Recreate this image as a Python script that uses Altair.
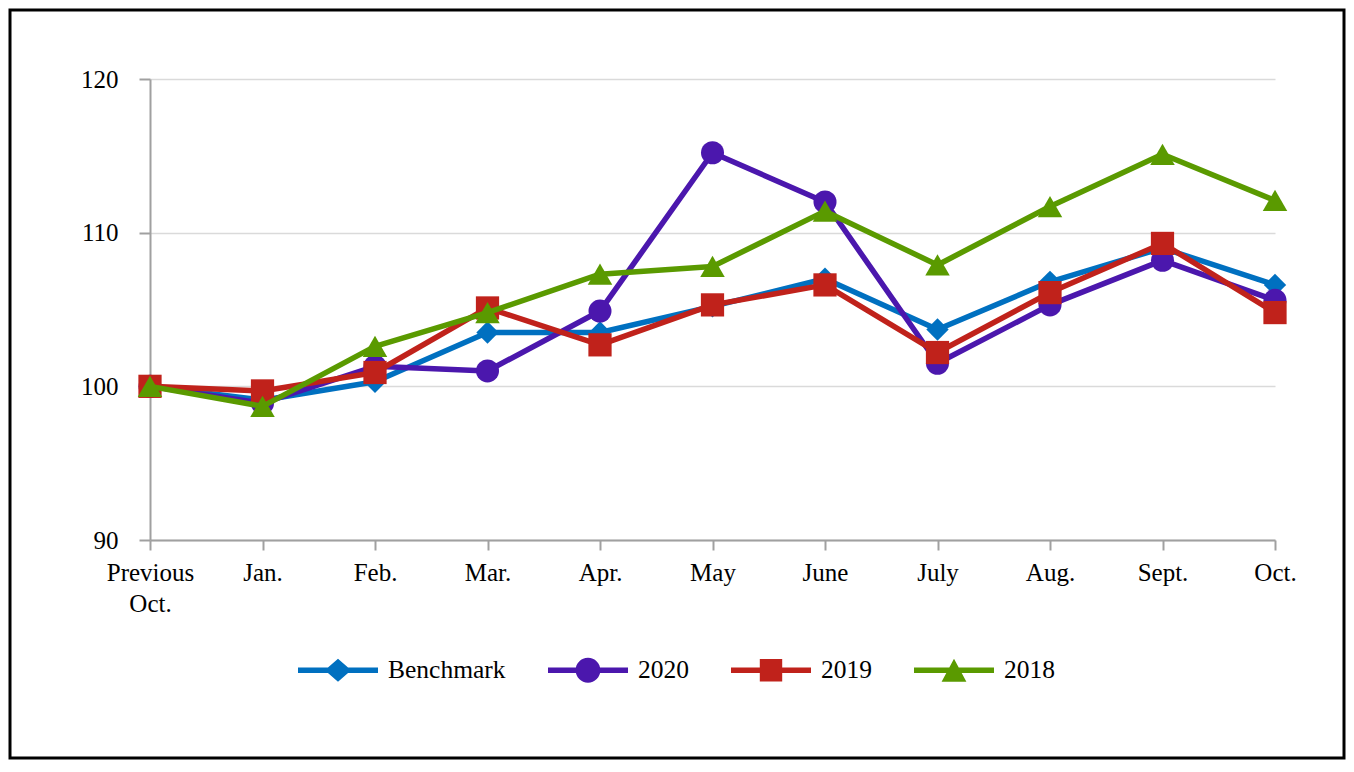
import altair as alt
import pandas as pd

months = ["Previous Oct.", "Jan.", "Feb.", "Mar.", "Apr.", "May", "June",
          "July", "Aug.", "Sept.", "Oct."]
series_names = ["Benchmark", "2020", "2019", "2018"]
benchmark = [100.0, 99.1, 100.3, 103.5, 103.5, 105.2, 107.0, 103.7, 106.8, 109.0, 106.6]
y2020 = [100.0, 98.9, 101.3, 101.0, 104.9, 115.2, 112.0, 101.5, 105.3, 108.2, 105.6]
y2019 = [100.0, 99.7, 100.9, 105.1, 102.7, 105.3, 106.6, 102.2, 106.1, 109.3, 104.8]
y2018 = [100.0, 98.7, 102.6, 104.8, 107.3, 107.8, 111.4, 107.9, 111.7, 115.1, 112.1]
y_ticks = [90, 100, 110, 120]

values = {"Benchmark": benchmark, "2020": y2020, "2019": y2019, "2018": y2018}
rows = []
for s in series_names:
    for m, v in zip(months, values[s]):
        rows.append({"month": m, "series": s, "value": v})
df = pd.DataFrame(rows)

colors = ["#0070C0", "#4B17AD", "#C0221B", "#5A9A00"]
marker_shapes = ["diamond", "circle", "square", "triangle-up"]
marker_sizes = [500, 530, 540, 600]

line_bar = "M-1,-0.07L1,-0.07L1,0.07L-1,0.07Z"
legend_paths = [
    line_bar + "M0,-0.29L0.33,0L0,0.29L-0.33,0Z",
    line_bar + "M0.31,0A0.31,0.31 0 1,1 -0.31,0A0.31,0.31 0 1,1 0.31,0Z",
    line_bar + "M-0.28,-0.28L0.28,-0.28L0.28,0.28L-0.28,0.28Z",
    line_bar + "M0,-0.29L0.31,0.29L-0.31,0.29Z",
]

FONT = "Liberation Serif"
W, H = 1125, 461
PAD_L, PAD_T, PAD_R, PAD_B = 142, 71, 71, 220

x_enc = alt.X(
    "month:N", sort=months,
    scale=alt.Scale(type="point", padding=0, domain=months),
    axis=alt.Axis(
        title=None, labelAngle=0, labelFont=FONT, labelFontSize=25,
        labelColor="black", labelPadding=10, labelOverlap=False,
        labelLineHeight=31, tickSize=10, tickColor="#A0A0A0", tickWidth=2,
        domainColor="#A0A0A0", domainWidth=2, grid=False,
        labelExpr="datum.label == 'Previous Oct.' ? ['Previous', 'Oct.'] : datum.label",
    ),
)
y_enc = alt.Y(
    "value:Q",
    scale=alt.Scale(domain=[90, 120], nice=False, zero=False),
    axis=alt.Axis(
        title=None, values=y_ticks, labelFont=FONT, labelFontSize=25,
        labelColor="black", labelPadding=21, tickSize=11, tickColor="#A0A0A0",
        tickWidth=2, domainColor="#A0A0A0", domainWidth=2, grid=True,
        gridColor="#DADADA", gridWidth=1.5,
    ),
)
# same mapping, listed in reverse so these hidden-legend scales stay separate
mark_scale = alt.Scale(domain=series_names[::-1], range=colors[::-1])
legend_color_scale = alt.Scale(domain=series_names, range=colors)

base = alt.Chart(df)
layers = []
for s, shp, sz in zip(series_names, marker_shapes, marker_sizes):
    sub = base.transform_filter(alt.datum.series == s)
    layers.append(
        sub.mark_line(strokeWidth=5.5, strokeJoin="round").encode(
            x=x_enc, y=y_enc,
            stroke=alt.Stroke("series:N", scale=mark_scale, legend=None),
        )
    )
    layers.append(
        sub.mark_point(filled=True, shape=shp, size=sz, opacity=1, strokeWidth=0).encode(
            x=x_enc, y=y_enc,
            fill=alt.Fill("series:N", scale=mark_scale, legend=None),
        )
    )

legend_cfg = alt.Legend(
    title=None, orient="none", direction="horizontal",
    legendX=148, legendY=551, padding=0,
    symbolSize=6400, symbolStrokeWidth=0, symbolOpacity=1,
    labelFont=FONT, labelFontSize=25.5, labelColor="black", labelOffset=10,
    columnPadding=42, labelLimit=400,
)
legend_layer = base.mark_point(filled=True, opacity=0).encode(
    x=x_enc, y=y_enc,
    color=alt.Color("series:N", scale=legend_color_scale, legend=legend_cfg),
    shape=alt.Shape("series:N", scale=alt.Scale(domain=series_names, range=legend_paths),
                    legend=legend_cfg),
)
layers.append(legend_layer)

frame = alt.Chart(pd.DataFrame({"a": [0]})).mark_rect(
    fillOpacity=0, stroke="black", strokeWidth=3
).encode(
    x=alt.value(-PAD_L + 2), x2=alt.value(W + PAD_R - 2),
    y=alt.value(-PAD_T + 2), y2=alt.value(H + PAD_B - 2),
)
layers.append(frame)

chart = alt.layer(*layers).properties(
    width=W, height=H,
    autosize=alt.AutoSizeParams(type="none"),
    padding={"left": PAD_L, "top": PAD_T, "right": PAD_R, "bottom": PAD_B},
    background="white",
).configure_view(stroke=None)

chart.save("out.html", embed_options={"renderer": "svg", "actions": False})
